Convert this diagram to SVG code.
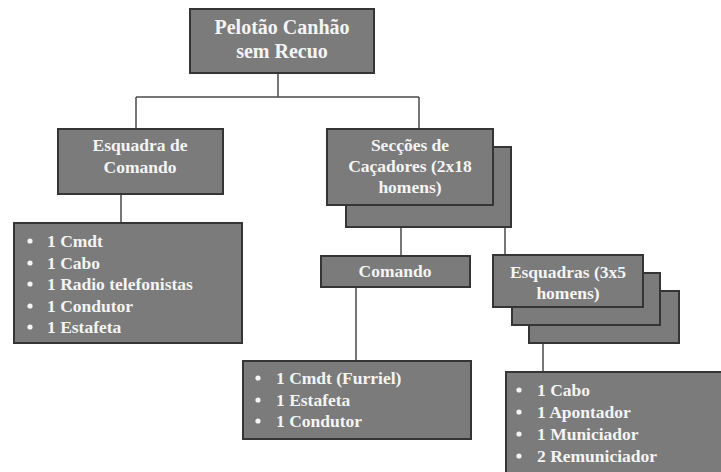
<svg xmlns="http://www.w3.org/2000/svg" width="721" height="472" viewBox="0 0 721 472">
<style>
.box{fill:#7b7b7b;stroke:#353535;stroke-width:2}
.t{font-family:"Liberation Serif",serif;font-weight:bold;fill:#f4f4f4;font-size:17.5px}
.c{text-anchor:middle}
.title{font-size:20px}
.con{fill:none;stroke:#4a4a4a;stroke-width:1.5}
.dot{fill:#f4f4f4}
</style>
<rect width="721" height="472" fill="#ffffff"/>
<g id="connectors">
<path class="con" d="M278 73V97M136 97H419M136 97V129M419 97V129M121 194V223M401 227V256M505 227V255M356 287V361M543 343V372"/>
</g>
<g id="pelotao">
<rect class="box" x="190" y="9" width="184" height="64"/>
<text class="t c title" x="282" y="34">Pelotão Canhão</text>
<text class="t c title" x="282" y="58">sem Recuo</text>
</g>
<g id="esquadra-comando">
<rect class="box" x="58" y="129" width="165" height="65"/>
<text class="t c" x="140" y="151">Esquadra de</text>
<text class="t c" x="140" y="173">Comando</text>
</g>
<g id="esquadra-comando-lista">
<rect class="box" x="14" y="223" width="228" height="120"/>
<circle class="dot" cx="30" cy="241" r="2.6"/>
<circle class="dot" cx="30" cy="263" r="2.6"/>
<circle class="dot" cx="30" cy="284" r="2.6"/>
<circle class="dot" cx="30" cy="306" r="2.6"/>
<circle class="dot" cx="30" cy="327" r="2.6"/>
<text class="t" x="47" y="247">1 Cmdt</text>
<text class="t" x="47" y="269">1 Cabo</text>
<text class="t" x="47" y="290">1 Radio telefonistas</text>
<text class="t" x="47" y="312">1 Condutor</text>
<text class="t" x="47" y="333">1 Estafeta</text>
</g>
<g id="seccoes">
<rect class="box" x="346" y="147" width="165" height="80"/>
<rect class="box" x="327" y="129" width="166" height="76"/>
<text class="t c" x="410" y="151">Secções de</text>
<text class="t c" x="410" y="172">Caçadores (2x18</text>
<text class="t c" x="410" y="193">homens)</text>
</g>
<g id="comando">
<rect class="box" x="321" y="256" width="149" height="31"/>
<text class="t c" x="395" y="277">Comando</text>
</g>
<g id="comando-lista">
<rect class="box" x="243" y="361" width="228" height="78"/>
<circle class="dot" cx="258" cy="378" r="2.6"/>
<circle class="dot" cx="258" cy="400" r="2.6"/>
<circle class="dot" cx="258" cy="421" r="2.6"/>
<text class="t" x="276" y="384">1 Cmdt (Furriel)</text>
<text class="t" x="276" y="406">1 Estafeta</text>
<text class="t" x="276" y="427">1 Condutor</text>
</g>
<g id="esquadras">
<rect class="box" x="529" y="291" width="150" height="52"/>
<rect class="box" x="512" y="273" width="148" height="52"/>
<rect class="box" x="493" y="255" width="150" height="52"/>
<text class="t c" x="568" y="278">Esquadras (3x5</text>
<text class="t c" x="568" y="299">homens)</text>
</g>
<g id="esquadras-lista">
<rect class="box" x="506" y="372" width="230" height="110"/>
<circle class="dot" cx="519" cy="390" r="2.6"/>
<circle class="dot" cx="519" cy="412" r="2.6"/>
<circle class="dot" cx="519" cy="434" r="2.6"/>
<circle class="dot" cx="519" cy="456" r="2.6"/>
<text class="t" x="537" y="396">1 Cabo</text>
<text class="t" x="537" y="418">1 Apontador</text>
<text class="t" x="537" y="440">1 Municiador</text>
<text class="t" x="537" y="462">2 Remuniciador</text>
</g>
</svg>
